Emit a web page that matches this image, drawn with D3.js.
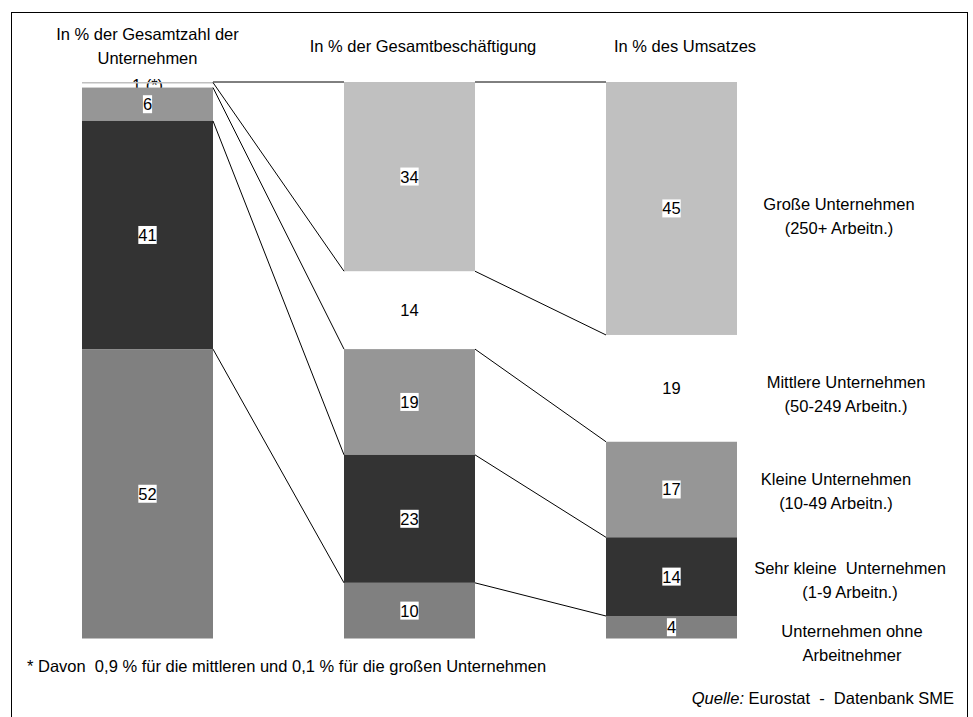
<!DOCTYPE html>
<html>
<head>
<meta charset="utf-8">
<script src="https://cdn.jsdelivr.net/npm/d3@7"></script>
<style>
  body { margin: 0; background: #fff; }
  svg { display: block; font-family: "Liberation Sans", Arial, sans-serif; }
  text { white-space: pre; }
</style>
</head>
<body>
<svg width="973" height="717"></svg>
<script>
const svg = d3.select('svg');

// data
const columns = ['Unternehmen', 'Beschaeftigung', 'Umsatz'];
const columnTitles = [
  ['In % der Gesamtzahl der', 'Unternehmen'],
  ['In % der Gesamtbeschäftigung'],
  ['In % des Umsatzes']
];
const categories = ['gross', 'mittel', 'klein', 'sehrklein', 'ohne'];
const categoryLabels = [
  ['Große Unternehmen', '(250+ Arbeitn.)'],
  ['Mittlere Unternehmen', '(50-249 Arbeitn.)'],
  ['Kleine Unternehmen', '(10-49 Arbeitn.)'],
  ['Sehr kleine  Unternehmen', '(1-9 Arbeitn.)'],
  ['Unternehmen ohne', 'Arbeitnehmer']
];
const anteilUnternehmen = [0.1, 0.9, 6, 41, 52];
const anteilBeschaeftigung = [34, 14, 19, 23, 10];
const anteilUmsatz = [45, 19, 17, 14, 4];
const valueLabels = [
  ['', '1 (*)', '6', '41', '52'],
  ['34', '14', '19', '23', '10'],
  ['45', '19', '17', '14', '4']
];
const footnote = '* Davon  0,9 % für die mittleren und 0,1 % für die großen Unternehmen';

// styles
const fontSize = 16.5;
const colors = ['#c0c0c0', 'none', '#969696', '#333333', '#808080'];
const labelDx = [-6, 1, -9, 5, 7];
const labelDy = [2, 0, -5, -3, 10];

// one row per column, keys = categories
const series = [anteilUnternehmen, anteilBeschaeftigung, anteilUmsatz];
const table = columns.map((c, j) => {
  const row = { column: c };
  categories.forEach((k, i) => row[k] = series[j][i]);
  return row;
});

const stacked = d3.stack()
  .keys(categories)
  .order(d3.stackOrderReverse)
  .offset(d3.stackOffsetExpand)(table);

const x = d3.scaleBand()
  .domain(columns)
  .range([82, 737])
  .paddingInner(0.5)
  .paddingOuter(0);

const y = d3.scaleLinear()
  .domain([0, 1])
  .range([638.5, 82]);

const bw = x.bandwidth();

// frame
svg.append('rect')
  .attr('x', 11.5).attr('y', 12.5)
  .attr('width', 956).attr('height', 720)
  .attr('fill', 'none').attr('stroke', '#000');

// titles
columnTitles.forEach((lines, j) => {
  const cx = x(columns[j]) + bw / 2 + (j === 0 ? 0 : 13.5);
  const y0 = j === 0 ? 40 : 52;
  lines.forEach((t, l) => {
    svg.append('text')
      .attr('x', cx).attr('y', y0 + l * 24)
      .attr('text-anchor', 'middle')
      .attr('font-size', fontSize)
      .text(t);
  });
});

// labels that sit on empty (white) segments go under the bars
const under = svg.append('g');
const bars = svg.append('g');
const lines = svg.append('g');
const labels = svg.append('g');

stacked.forEach((s, i) => {
  s.forEach((d, j) => {
    const top = y(d[1]);
    const h = Math.max(1.5, y(d[0]) - y(d[1]));
    bars.append('rect')
      .attr('x', x(columns[j]))
      .attr('y', top)
      .attr('width', bw)
      .attr('height', h)
      .attr('fill', colors[i]);

    const txt = valueLabels[j][i];
    if (!txt) return;
    const cy = (y(d[0]) + y(d[1])) / 2;
    const layer = colors[i] === 'none' ? under : labels;
    const g = layer.append('g');
    const t = g.append('text')
      .attr('x', x(columns[j]) + bw / 2)
      .attr('y', cy)
      .attr('dy', '0.36em')
      .attr('text-anchor', 'middle')
      .attr('font-size', fontSize)
      .text(txt);
    if (colors[i] !== 'none') {
      const bb = t.node().getBBox();
      g.insert('rect', 'text')
        .attr('x', bb.x).attr('y', bb.y)
        .attr('width', bb.width).attr('height', bb.height)
        .attr('fill', '#fff');
    }
  });
});

// connectors between the segment tops of neighbouring columns
stacked.forEach(s => {
  for (let j = 0; j < columns.length - 1; j++) {
    lines.append('line')
      .attr('x1', x(columns[j]) + bw)
      .attr('y1', y(s[j][1]))
      .attr('x2', x(columns[j + 1]))
      .attr('y2', y(s[j + 1][1]))
      .attr('stroke', '#000')
      .attr('stroke-width', 1);
  }
});

// category labels on the right, next to the last column
const last = columns.length - 1;
stacked.forEach((s, i) => {
  const d = s[last];
  const cy = (y(d[0]) + y(d[1])) / 2 + labelDy[i];
  categoryLabels[i].forEach((t, l) => {
    svg.append('text')
      .attr('x', 845 + labelDx[i])
      .attr('y', cy + l * 24)
      .attr('text-anchor', 'middle')
      .attr('font-size', fontSize)
      .text(t);
  });
});

// footnote and source
svg.append('text')
  .attr('x', 27).attr('y', 672)
  .attr('font-size', fontSize)
  .text(footnote);

const src = svg.append('text')
  .attr('x', 954).attr('y', 704)
  .attr('text-anchor', 'end')
  .attr('font-size', fontSize);
src.append('tspan').attr('font-style', 'italic').text('Quelle:');
src.append('tspan').text(' Eurostat  -  Datenbank SME');
</script>
</body>
</html>
